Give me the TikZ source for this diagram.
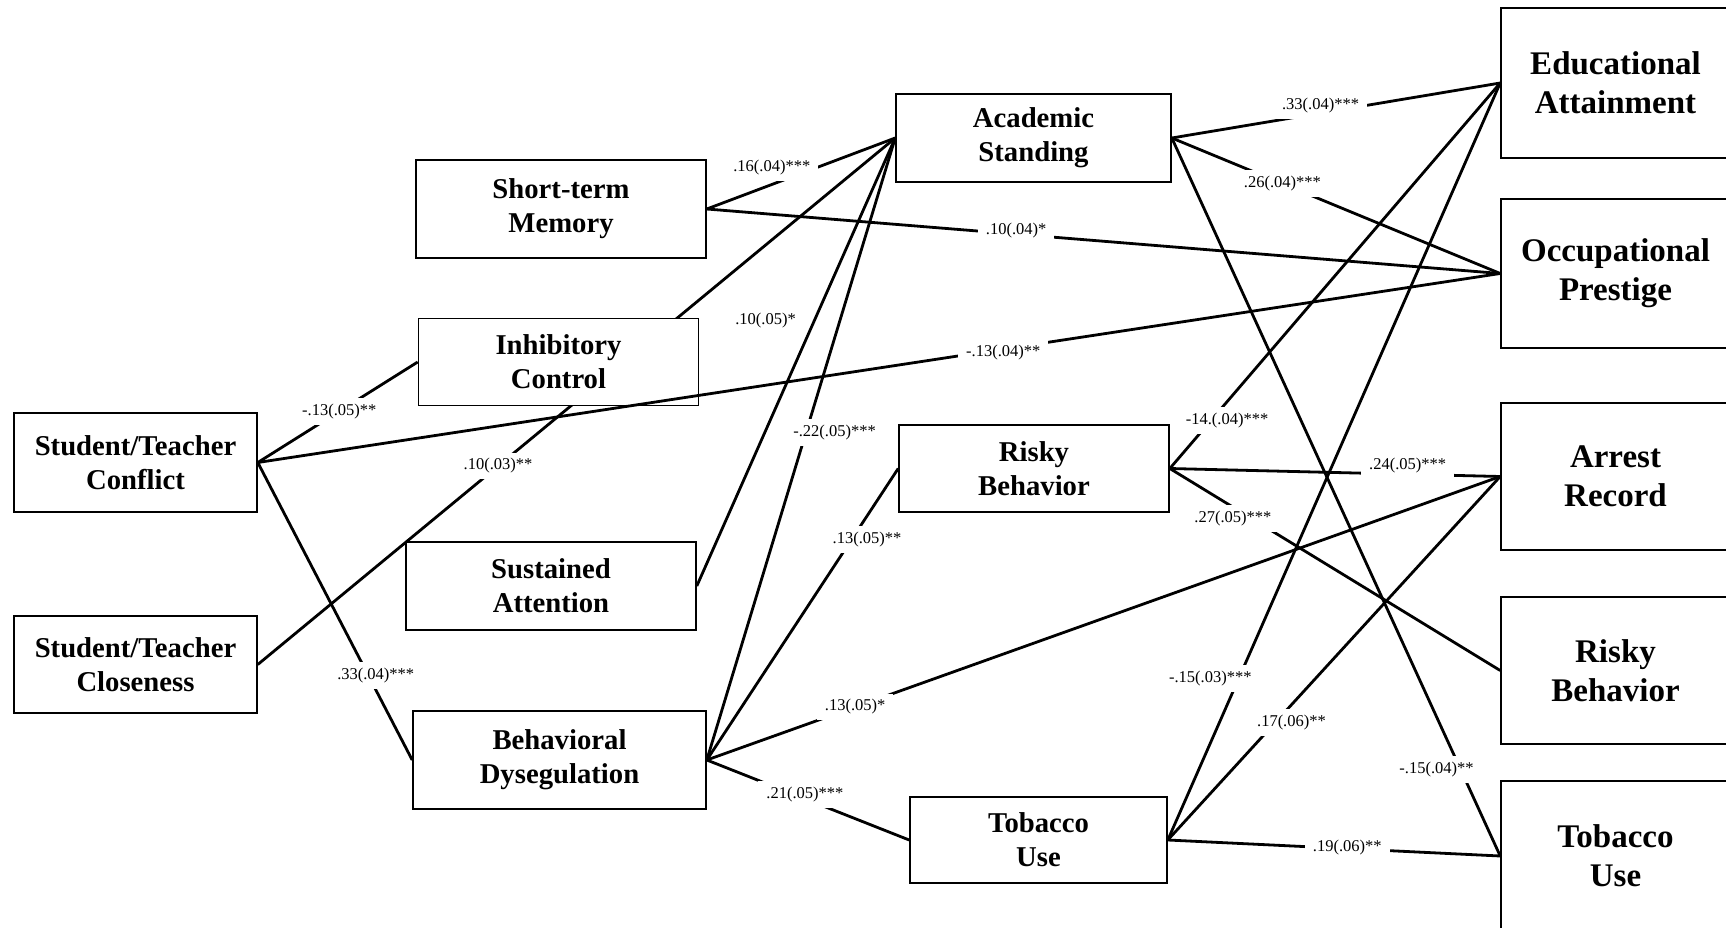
\documentclass[tikz,border=0pt]{standalone}
\usepackage{fontspec}
\setmainfont{Liberation Serif}
\usetikzlibrary{backgrounds}

\begin{document}
\begin{tikzpicture}[x=1pt,y=-1pt,line width=2.8pt,
  midbox/.style={draw,fill=white,line width=1.6pt,align=center,inner sep=2pt,
    font=\fontsize{28.7}{34}\selectfont\bfseries},
  outbox/.style={draw,fill=white,line width=1.6pt,align=center,inner sep=2pt,
    minimum width=229pt,font=\fontsize{33}{39}\selectfont\bfseries},
  coef/.style={fill=white,inner xsep=8pt,inner ysep=6pt,
    font=\fontsize{16.5}{18}\selectfont}]
  \useasboundingbox (0,0) rectangle (1726,928);

  % predictors and mediators
  \node[midbox,minimum width=243pt,minimum height=99pt] (conflict) at (135.5,462.5) {Student/Teacher\\Conflict};
  \node[midbox,minimum width=243pt,minimum height=97pt] (close) at (135.5,664.5) {Student/Teacher\\Closeness};
  \node[midbox,minimum width=290pt,minimum height=98pt] (stm) at (561,209) {Short-term\\Memory};
  \node[midbox,minimum width=280pt,minimum height=87pt] (inhib) at (558.5,362) {Inhibitory\\Control};
  \node[midbox,minimum width=290pt,minimum height=88pt] (sust) at (551,586) {Sustained\\Attention};
  \node[midbox,minimum width=293pt,minimum height=98pt] (behav) at (559.5,760) {Behavioral\\Dysegulation};
  \node[midbox,minimum width=275pt,minimum height=88pt] (acad) at (1033.5,138) {Academic\\Standing};
  \node[midbox,minimum width=270pt,minimum height=87pt] (riskM) at (1034,468.5) {Risky\\Behavior};
  \node[midbox,minimum width=257pt,minimum height=86pt] (tobM) at (1038.5,840) {Tobacco\\Use};

  % outcomes
  \node[outbox,minimum height=150pt] (edu) at (1615.5,83) {Educational\\Attainment};
  \node[outbox,minimum height=149pt] (occ) at (1615.5,273.5) {Occupational\\Prestige};
  \node[outbox,minimum height=147pt] (arrest) at (1615.5,476.5) {Arrest\\Record};
  \node[outbox,minimum height=147pt] (riskR) at (1615.5,670.5) {Risky\\Behavior};
  \node[outbox,minimum height=150pt] (tobR) at (1615.5,856) {Tobacco\\Use};

  \begin{scope}[on background layer]
    \draw[line width=2.8pt] (close.east) -- node[coef,pos=.377] (w6) {.10(.03)**} (acad.west);
  \end{scope}
  \draw (stm.east) -- node[coef,pos=.377,xshift=-6pt,yshift=15pt] (w1) {.16(.04)***} (acad.west);
  \draw (stm.east) -- node[coef,pos=.39,yshift=4pt] (w2) {.10(.04)*} (occ.west);
  \draw (conflict.east) -- node[coef,pos=.51] (w3) {-.13(.05)**} (inhib.west);
  \draw (conflict.east) -- node[coef,pos=.6,yshift=-3pt] (w4) {-.13(.04)**} (occ.west);
  \draw (conflict.east) -- node[coef,pos=.725,xshift=6pt,yshift=3pt] (w5) {.33(.04)***} (behav.west);
  \draw (sust.east) -- node[coef,pos=.553,xshift=-41pt,yshift=18pt] (w7) {.10(.05)*} (acad.west);
  \draw (behav.east) -- node[coef,pos=.54,xshift=26pt,yshift=-8pt] (w8) {-.22(.05)***} (acad.west);
  \draw (behav.east) -- node[coef,pos=.78,xshift=11pt,yshift=-7pt] (w9) {.13(.05)**} (riskM.west);
  \draw (behav.east) -- node[coef,pos=.187] (w10) {.13(.05)*} (arrest.west);
  \draw (behav.east) -- node[coef,pos=.485,yshift=4pt] (w11) {.21(.05)***} (tobM.west);
  \draw (acad.east) -- node[coef,pos=.453,yshift=8pt] (w12) {.33(.04)***} (edu.west);
  \draw (acad.east) -- node[coef,pos=.337] (w13) {.26(.04)***} (occ.west);
  \draw (acad.east) -- node[coef,pos=.867,xshift=-20pt,yshift=-9pt] (w14) {-.15(.04)**} (tobR.west);
  \draw (riskM.east) -- node[coef,pos=.146,xshift=9pt,yshift=-8pt] (w15) {-14.(.04)***} (edu.west);
  \draw (riskM.east) -- node[coef,pos=.72,yshift=9pt] (w16) {.24(.05)***} (arrest.west);
  \draw (riskM.east) -- node[coef,pos=.206,xshift=-5pt,yshift=-8pt] (w17) {.27(.05)***} (riskR.west);
  \draw (tobM.east) -- node[coef,pos=.2,xshift=-24pt,yshift=10pt] (w18) {-.15(.03)***} (edu.west);
  \draw (tobM.east) -- node[coef,pos=.345,xshift=9pt,yshift=-8pt] (w19) {.17(.06)**} (arrest.west);
  \draw (tobM.east) -- node[coef,pos=.54,yshift=1pt] (w20) {.19(.06)**} (tobR.west);
\end{tikzpicture}
\end{document}
